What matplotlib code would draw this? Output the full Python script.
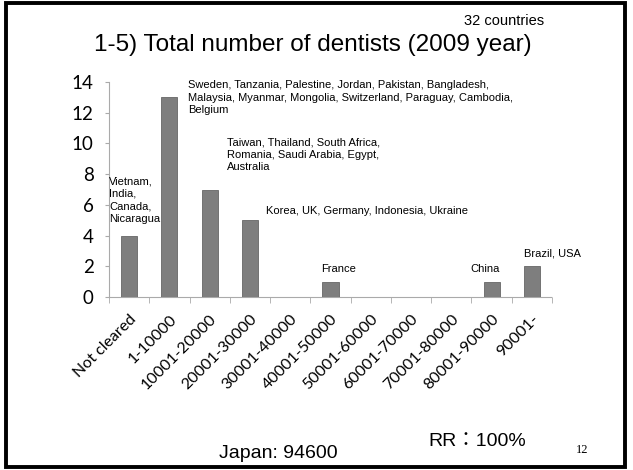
import matplotlib
matplotlib.use("Agg")
import matplotlib.pyplot as plt
from matplotlib.patches import Rectangle

# Data
categories = ["Not cleared", "1-10000", "10001-20000", "20001-30000", "30001-40000",
              "40001-50000", "50001-60000", "60001-70000", "70001-80000",
              "80001-90000", "90001-"]
counts = [4, 13, 7, 5, 0, 1, 0, 0, 0, 1, 2]
yticks = [0, 2, 4, 6, 8, 10, 12, 14]

notes = [
    "Vietnam,\nIndia,\nCanada,\nNicaragua",
    "Sweden, Tanzania, Palestine, Jordan, Pakistan, Bangladesh,\n"
    "Malaysia, Myanmar, Mongolia, Switzerland, Paraguay, Cambodia,\nBelgium",
    "Taiwan, Thailand, South Africa,\nRomania, Saudi Arabia, Egypt,\nAustralia",
    "Korea, UK, Germany, Indonesia, Ukraine",
    "France",
    "China",
    "Brazil, USA",
]

W, H = 633, 470
fig = plt.figure(figsize=(W / 100, H / 100), dpi=100)
fig.patch.set_facecolor("white")

# slide frame
fig.add_artist(Rectangle((6 / W, 3 / H), 619 / W, 464 / H, transform=fig.transFigure,
                         fill=False, edgecolor="black", linewidth=2.8))

ax = fig.add_axes([109 / W, 1 - 297 / H, (552 - 109) / W, (297 - 82) / H])
x = range(len(categories))
ax.bar(x, counts, width=0.4, color="#7e7e7e", edgecolor="#666666", linewidth=0.6, zorder=3)

ax.set_xlim(-0.5, len(categories) - 0.5)
ax.set_ylim(0, 14)
ax.set_yticks(yticks)
ax.set_yticklabels([str(v) for v in yticks], fontname="Lato", fontsize=13.5)
ax.set_xticks(list(x))
ax.set_xticklabels(categories, rotation=45, ha="right", rotation_mode="anchor",
                   fontname="Lato", fontsize=11.5)
ax.tick_params(axis="x", length=0, pad=11)
ax.set_xticks([i - 0.5 for i in range(len(categories) + 1)], minor=True)
ax.tick_params(axis="x", which="minor", length=4, color="#aaaaaa", direction="out")
ax.tick_params(axis="y", length=3, color="#aaaaaa", pad=8)
for s in ["top", "right"]:
    ax.spines[s].set_visible(False)
for s in ["left", "bottom"]:
    ax.spines[s].set_color("#aaaaaa")
    ax.spines[s].set_linewidth(0.8)
    ax.spines[s].set_linestyle((0, (2, 1)))

af = dict(fontname="Liberation Sans", fontsize=8, color="black", linespacing=1.3, zorder=4)
ax.text(-0.5, 7.85, notes[0], ha="left", va="top", **af)
ax.text(1.46, 14.1, notes[1], ha="left", va="top", **af)
ax.text(2.43, 10.4, notes[2], ha="left", va="top", **af)
ax.text(3.4, 5.6, notes[3], ha="left", va="center", **af)
ax.text(5.19, 1.82, notes[4], ha="center", va="center", **af)
ax.text(8.83, 1.82, notes[5], ha="center", va="center", **af)
ax.text(10.52, 2.86, notes[6], ha="center", va="center", **af)

fig.text(313 / W, 1 - 45 / H, "1-5) Total number of dentists (2009 year)",
         ha="center", va="center", fontname="Liberation Sans", fontsize=17.5)
fig.text(504 / W, 1 - 21 / H, "32 countries", ha="center", va="center",
         fontname="Liberation Sans", fontsize=10.5)
fig.text(278 / W, 1 - 453 / H, "Japan: 94600", ha="center", va="center",
         fontname="Liberation Sans", fontsize=14)
fig.text(477 / W, 1 - 441 / H, "RR：100%", ha="center", va="center",
         family=["Liberation Sans", "Noto Sans CJK JP"], fontsize=14)
fig.text(582 / W, 1 - 450 / H, "12", ha="center", va="center",
         fontname="Liberation Serif", fontsize=9)

fig.savefig("out.png", dpi=100)
